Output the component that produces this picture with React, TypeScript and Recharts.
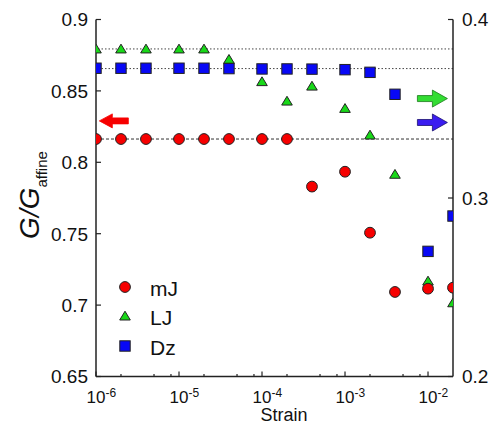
import React from "react";
import {
	ScatterChart,
	Scatter,
	XAxis,
	YAxis,
	ReferenceLine,
	ReferenceDot,
	Legend
} from "recharts";

// strain values shared by every series
const strain = [1e-6, 2e-6, 4e-6, 1e-5, 2e-5, 4e-5, 1e-4, 2e-4, 4e-4, 1e-3, 2e-3, 4e-3, 1e-2, 2e-2];

// G/G_affine, mJ on the left axis, LJ and Dz on the right axis
const mJ = [0.8163, 0.8163, 0.8163, 0.8163, 0.8163, 0.8163, 0.8163, 0.8163, 0.783, 0.7934, 0.7507, 0.7092, 0.7115, 0.7122];
const LJ = [0.3835, 0.3835, 0.3835, 0.3835, 0.3835, 0.3777, 0.3652, 0.3543, 0.3627, 0.3502, 0.3353, 0.3133, 0.2535, 0.2413];
const Dz = [0.3727, 0.3727, 0.3727, 0.3727, 0.3727, 0.3725, 0.3723, 0.3723, 0.3722, 0.3719, 0.3704, 0.3581, 0.2701, 0.2899];

// plateau values (dotted guide lines)
const mJPlateau = 0.8163;
const LJPlateau = 0.3835;
const DzPlateau = 0.3725;

const seriesNames = ["mJ", "LJ", "Dz"];

const majorTicks = [1e-6, 1e-5, 1e-4, 1e-3, 1e-2];
const minorTicks = [2e-6, 5e-6, 8e-6, 2e-5, 5e-5, 8e-5, 2e-4, 5e-4, 8e-4, 2e-3, 5e-3, 8e-3];
const leftTicks = [0.65, 0.7, 0.75, 0.8, 0.85, 0.9];
const rightTicks = [0.2, 0.3, 0.4];

// axis-indicator arrows, in data coordinates
const mJArrow = { x: 1.64e-6, y: 0.829 };
const LJArrow = { x: 0.0113, y: 0.3557 };
const DzArrow = { x: 0.0113, y: 0.3423 };

const FONT = "'Liberation Sans', Arial, sans-serif";
const INK = "#111";
const AXIS = "#222";
const RED = "#f60000";
const GREEN = "#18d818";
const BLUE = "#0808f6";
const EDGE = "#222";

const xTicks = [...majorTicks, ...minorTicks].sort((a, b) => a - b);
const toPoints = (ys: number[]) => strain.map((x, i) => ({ x, y: ys[i] }));

const CircleMark = ({ cx, cy }: any) => (
	<circle cx={cx} cy={cy} r={5.4} fill={RED} stroke={EDGE} strokeWidth={1} />
);
const TriangleMark = ({ cx, cy }: any) => (
	<polygon
		points={`${cx},${cy - 4.8} ${cx + 5.3},${cy + 4} ${cx - 5.3},${cy + 4}`}
		fill={GREEN}
		stroke={EDGE}
		strokeWidth={1}
	/>
);
const SquareMark = ({ cx, cy }: any) => (
	<rect x={cx - 5.2} y={cy - 5.2} width={10.4} height={10.4} fill={BLUE} stroke={EDGE} strokeWidth={1} />
);

const marks: Record<string, (p: any) => React.ReactElement> = {
	mJ: CircleMark,
	LJ: TriangleMark,
	Dz: SquareMark
};

function Arrow({ cx, cy, dir, fill, stroke, len, head, headLen }: any) {
	const s = dir === "left" ? -1 : 1;
	const tail = cx - (s * len) / 2;
	const tip = cx + (s * len) / 2;
	const base = tip - s * headLen;
	const w = 3;
	const pts = [
		[tail, cy - w],
		[base, cy - w],
		[base, cy - head / 2],
		[tip, cy],
		[base, cy + head / 2],
		[base, cy + w],
		[tail, cy + w]
	];
	return (
		<polygon
			points={pts.map((p) => p.join(",")).join(" ")}
			fill={fill}
			stroke={stroke}
			strokeWidth={0.8}
		/>
	);
}

const BottomTick = ({ x, y, payload }: any) => {
	const v = payload.value;
	const major = majorTicks.includes(v);
	const exp = Math.round(Math.log10(v));
	return (
		<g>
			<line x1={x} x2={x} y1={y} y2={y - (major ? 5 : 2.5)} stroke={AXIS} strokeWidth={1.2} />
			{major && (
				<>
					<text x={x} y={y + 26.5} textAnchor="middle" fontSize={17} fill={INK} fontFamily={FONT}>
						10
					</text>
					<text x={x + 9.5} y={y + 20.5} textAnchor="start" fontSize={12} fill={INK} fontFamily={FONT}>
						{String(exp)}
					</text>
				</>
			)}
		</g>
	);
};

const TopTick = ({ x, y, payload }: any) => {
	const major = majorTicks.includes(payload.value);
	return <line x1={x} x2={x} y1={y} y2={y + (major ? 5 : 2.5)} stroke={AXIS} strokeWidth={1.2} />;
};

const LeftTick = ({ x, y, payload }: any) => (
	<g>
		<line x1={x} x2={x + 5} y1={y} y2={y} stroke={AXIS} strokeWidth={1.2} />
		<text x={x - 8} y={y} dy="0.36em" textAnchor="end" fontSize={19} fill={INK} fontFamily={FONT}>
			{payload.value}
		</text>
	</g>
);

const RightTick = ({ x, y, payload }: any) => (
	<g>
		<line x1={x} x2={x - 5} y1={y} y2={y} stroke={AXIS} strokeWidth={1.2} />
		<text x={x + 9} y={y} dy="0.36em" textAnchor="start" fontSize={19} fill={INK} fontFamily={FONT}>
			{payload.value}
		</text>
	</g>
);

const XLabel = () => (
	<text x={284} y={421} textAnchor="middle" fontSize={18} fill={INK} fontFamily={FONT}>
		Strain
	</text>
);

const YLabel = () => (
	<text
		transform="rotate(-90, 39, 195)"
		x={39}
		y={195}
		textAnchor="middle"
		fill={INK}
		fontFamily={FONT}
	>
		<tspan fontSize={28} fontStyle="italic">G/G</tspan>
		<tspan fontSize={15} dy={8}>affine</tspan>
	</text>
);

const LegendBox = ({ payload }: any) => {
	const items = [...(payload || [])].sort(
		(a: any, b: any) => seriesNames.indexOf(a.value) - seriesNames.indexOf(b.value)
	);
	return (
		<div style={{ fontFamily: FONT }}>
			{items.map((entry: any) => {
				const Mark = marks[entry.value];
				return (
					<div key={entry.value} style={{ display: "flex", alignItems: "center", height: 29.5 }}>
						<svg width={14} height={14}>
							<Mark cx={7} cy={7} />
						</svg>
						<span style={{ marginLeft: 18, fontSize: 21, color: INK, position: "relative", top: 2 }}>
							{entry.value}
						</span>
					</div>
				);
			})}
		</div>
	);
};

export default function App() {
	return (
		<div style={{ position: "absolute", left: 0, top: 0, fontFamily: FONT, background: "#fff" }}>
			<ScatterChart width={492} height={428} margin={{ top: 19.5, right: 0, bottom: 0, left: 0 }}>
				<XAxis
					xAxisId="x"
					dataKey="x"
					type="number"
					scale="log"
					domain={[1e-6, 0.02]}
					allowDataOverflow
					ticks={xTicks}
					interval={0}
					tickLine={false}
					tickSize={0}
					tickMargin={0}
					height={51.5}
					axisLine={{ stroke: AXIS, strokeWidth: 1.5 }}
					tick={(p: any) => <BottomTick {...p} />}
					label={XLabel}
				/>
				<XAxis
					xAxisId="top"
					dataKey="x"
					orientation="top"
					type="number"
					scale="log"
					domain={[1e-6, 0.02]}
					allowDataOverflow
					ticks={xTicks}
					interval={0}
					tickLine={false}
					tickSize={0}
					tickMargin={0}
					height={0}
					axisLine={{ stroke: AXIS, strokeWidth: 1.5 }}
					tick={(p: any) => <TopTick {...p} />}
				/>
				<YAxis
					yAxisId="left"
					dataKey="y"
					type="number"
					domain={[0.65, 0.9]}
					allowDataOverflow
					ticks={leftTicks}
					interval={0}
					width={96}
					tickLine={false}
					tickSize={0}
					tickMargin={0}
					axisLine={{ stroke: AXIS, strokeWidth: 1.5 }}
					tick={(p: any) => <LeftTick {...p} />}
					label={YLabel}
				/>
				<YAxis
					yAxisId="right"
					orientation="right"
					dataKey="y"
					type="number"
					domain={[0.2, 0.4]}
					allowDataOverflow
					ticks={rightTicks}
					interval={0}
					width={39}
					tickLine={false}
					tickSize={0}
					tickMargin={0}
					axisLine={{ stroke: AXIS, strokeWidth: 1.5 }}
					tick={(p: any) => <RightTick {...p} />}
				/>

				<ReferenceLine xAxisId="x" yAxisId="right" y={LJPlateau} stroke="#444" strokeWidth={1} strokeDasharray="1.5 2" />
				<ReferenceLine xAxisId="x" yAxisId="right" y={DzPlateau} stroke="#444" strokeWidth={1} strokeDasharray="1.5 2" />
				<ReferenceLine xAxisId="x" yAxisId="left" y={mJPlateau} stroke="#333" strokeWidth={1} strokeDasharray="3 2" />

				<Scatter
					name="LJ"
					data={toPoints(LJ)}
					xAxisId="x"
					yAxisId="right"
					fill={GREEN}
					shape={(p: any) => <TriangleMark cx={p.cx} cy={p.cy} />}
					isAnimationActive={false}
				/>
				<Scatter
					name="Dz"
					data={toPoints(Dz)}
					xAxisId="x"
					yAxisId="right"
					fill={BLUE}
					shape={(p: any) => <SquareMark cx={p.cx} cy={p.cy} />}
					isAnimationActive={false}
				/>
				<Scatter
					name="mJ"
					data={toPoints(mJ)}
					xAxisId="x"
					yAxisId="left"
					fill={RED}
					shape={(p: any) => <CircleMark cx={p.cx} cy={p.cy} />}
					isAnimationActive={false}
				/>

				<ReferenceDot
					xAxisId="x"
					yAxisId="left"
					x={mJArrow.x}
					y={mJArrow.y}
					shape={(p: any) => (
						<Arrow cx={p.cx} cy={p.cy} dir="left" fill={RED} stroke={RED} len={29} head={14} headLen={13} />
					)}
				/>
				<ReferenceDot
					xAxisId="x"
					yAxisId="right"
					x={LJArrow.x}
					y={LJArrow.y}
					shape={(p: any) => (
						<Arrow cx={p.cx} cy={p.cy} dir="right" fill="#33dd33" stroke="#1a7a1a" len={30} head={17} headLen={15} />
					)}
				/>
				<ReferenceDot
					xAxisId="x"
					yAxisId="right"
					x={DzArrow.x}
					y={DzArrow.y}
					shape={(p: any) => (
						<Arrow cx={p.cx} cy={p.cy} dir="right" fill="#3a1cf0" stroke="#1a1070" len={30} head={17} headLen={15} />
					)}
				/>

				<Legend
					layout="vertical"
					align="center"
					verticalAlign="middle"
					wrapperStyle={{ left: 118, top: 272, width: 100 }}
					content={(props: any) => <LegendBox payload={props.payload} />}
				/>
			</ScatterChart>
		</div>
	);
}
